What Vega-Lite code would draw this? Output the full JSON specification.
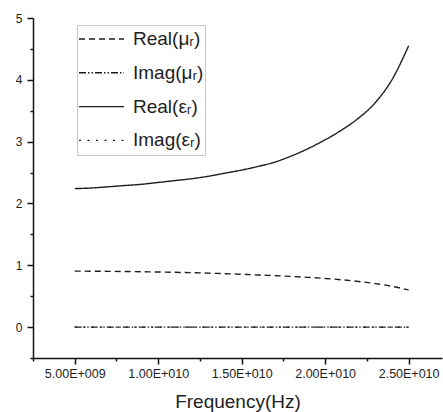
{
  "$schema": "https://vega.github.io/schema/vega-lite/v6.json",
  "width": 409,
  "height": 340,
  "autosize": {"type": "none"},
  "padding": {"left": 33, "top": 18, "right": 1, "bottom": 54},
  "background": "white",
  "config": {"view": {"stroke": null}, "font": "Liberation Sans"},
  "data": {
    "values": [
      {"series": "Real(μᵣ)", "f": 5e9, "v": 0.906},
      {"series": "Real(μᵣ)", "f": 6e9, "v": 0.904},
      {"series": "Real(μᵣ)", "f": 7e9, "v": 0.902},
      {"series": "Real(μᵣ)", "f": 8e9, "v": 0.899},
      {"series": "Real(μᵣ)", "f": 9e9, "v": 0.895},
      {"series": "Real(μᵣ)", "f": 10e9, "v": 0.891},
      {"series": "Real(μᵣ)", "f": 11e9, "v": 0.886},
      {"series": "Real(μᵣ)", "f": 12e9, "v": 0.880},
      {"series": "Real(μᵣ)", "f": 13e9, "v": 0.873},
      {"series": "Real(μᵣ)", "f": 14e9, "v": 0.864},
      {"series": "Real(μᵣ)", "f": 15e9, "v": 0.854},
      {"series": "Real(μᵣ)", "f": 16e9, "v": 0.843},
      {"series": "Real(μᵣ)", "f": 17e9, "v": 0.832},
      {"series": "Real(μᵣ)", "f": 18e9, "v": 0.819},
      {"series": "Real(μᵣ)", "f": 19e9, "v": 0.804},
      {"series": "Real(μᵣ)", "f": 20e9, "v": 0.787},
      {"series": "Real(μᵣ)", "f": 21e9, "v": 0.765},
      {"series": "Real(μᵣ)", "f": 22e9, "v": 0.738},
      {"series": "Real(μᵣ)", "f": 23e9, "v": 0.704},
      {"series": "Real(μᵣ)", "f": 24e9, "v": 0.660},
      {"series": "Real(μᵣ)", "f": 25e9, "v": 0.600},
      {"series": "Imag(μᵣ)", "f": 5e9, "v": 0.0},
      {"series": "Imag(μᵣ)", "f": 6e9, "v": 0.0},
      {"series": "Imag(μᵣ)", "f": 7e9, "v": 0.0},
      {"series": "Imag(μᵣ)", "f": 8e9, "v": 0.0},
      {"series": "Imag(μᵣ)", "f": 9e9, "v": 0.0},
      {"series": "Imag(μᵣ)", "f": 10e9, "v": 0.0},
      {"series": "Imag(μᵣ)", "f": 11e9, "v": 0.0},
      {"series": "Imag(μᵣ)", "f": 12e9, "v": 0.0},
      {"series": "Imag(μᵣ)", "f": 13e9, "v": 0.0},
      {"series": "Imag(μᵣ)", "f": 14e9, "v": 0.0},
      {"series": "Imag(μᵣ)", "f": 15e9, "v": 0.0},
      {"series": "Imag(μᵣ)", "f": 16e9, "v": 0.0},
      {"series": "Imag(μᵣ)", "f": 17e9, "v": 0.0},
      {"series": "Imag(μᵣ)", "f": 18e9, "v": 0.0},
      {"series": "Imag(μᵣ)", "f": 19e9, "v": 0.0},
      {"series": "Imag(μᵣ)", "f": 20e9, "v": 0.0},
      {"series": "Imag(μᵣ)", "f": 21e9, "v": 0.0},
      {"series": "Imag(μᵣ)", "f": 22e9, "v": 0.0},
      {"series": "Imag(μᵣ)", "f": 23e9, "v": 0.0},
      {"series": "Imag(μᵣ)", "f": 24e9, "v": 0.0},
      {"series": "Imag(μᵣ)", "f": 25e9, "v": 0.0},
      {"series": "Real(εᵣ)", "f": 5e9, "v": 2.24},
      {"series": "Real(εᵣ)", "f": 6e9, "v": 2.25},
      {"series": "Real(εᵣ)", "f": 7e9, "v": 2.27},
      {"series": "Real(εᵣ)", "f": 8e9, "v": 2.29},
      {"series": "Real(εᵣ)", "f": 9e9, "v": 2.31},
      {"series": "Real(εᵣ)", "f": 10e9, "v": 2.34},
      {"series": "Real(εᵣ)", "f": 11e9, "v": 2.37},
      {"series": "Real(εᵣ)", "f": 12e9, "v": 2.40},
      {"series": "Real(εᵣ)", "f": 13e9, "v": 2.44},
      {"series": "Real(εᵣ)", "f": 14e9, "v": 2.49},
      {"series": "Real(εᵣ)", "f": 15e9, "v": 2.54},
      {"series": "Real(εᵣ)", "f": 16e9, "v": 2.60},
      {"series": "Real(εᵣ)", "f": 17e9, "v": 2.67},
      {"series": "Real(εᵣ)", "f": 18e9, "v": 2.77},
      {"series": "Real(εᵣ)", "f": 19e9, "v": 2.89},
      {"series": "Real(εᵣ)", "f": 20e9, "v": 3.03},
      {"series": "Real(εᵣ)", "f": 21e9, "v": 3.19},
      {"series": "Real(εᵣ)", "f": 22e9, "v": 3.38},
      {"series": "Real(εᵣ)", "f": 23e9, "v": 3.63},
      {"series": "Real(εᵣ)", "f": 24e9, "v": 4.00},
      {"series": "Real(εᵣ)", "f": 25e9, "v": 4.55},
      {"series": "Imag(εᵣ)", "f": 5e9, "v": 0.0},
      {"series": "Imag(εᵣ)", "f": 6e9, "v": 0.0},
      {"series": "Imag(εᵣ)", "f": 7e9, "v": 0.0},
      {"series": "Imag(εᵣ)", "f": 8e9, "v": 0.0},
      {"series": "Imag(εᵣ)", "f": 9e9, "v": 0.0},
      {"series": "Imag(εᵣ)", "f": 10e9, "v": 0.0},
      {"series": "Imag(εᵣ)", "f": 11e9, "v": 0.0},
      {"series": "Imag(εᵣ)", "f": 12e9, "v": 0.0},
      {"series": "Imag(εᵣ)", "f": 13e9, "v": 0.0},
      {"series": "Imag(εᵣ)", "f": 14e9, "v": 0.0},
      {"series": "Imag(εᵣ)", "f": 15e9, "v": 0.0},
      {"series": "Imag(εᵣ)", "f": 16e9, "v": 0.0},
      {"series": "Imag(εᵣ)", "f": 17e9, "v": 0.0},
      {"series": "Imag(εᵣ)", "f": 18e9, "v": 0.0},
      {"series": "Imag(εᵣ)", "f": 19e9, "v": 0.0},
      {"series": "Imag(εᵣ)", "f": 20e9, "v": 0.0},
      {"series": "Imag(εᵣ)", "f": 21e9, "v": 0.0},
      {"series": "Imag(εᵣ)", "f": 22e9, "v": 0.0},
      {"series": "Imag(εᵣ)", "f": 23e9, "v": 0.0},
      {"series": "Imag(εᵣ)", "f": 24e9, "v": 0.0},
      {"series": "Imag(εᵣ)", "f": 25e9, "v": 0.0}
    ]
  },
  "mark": {"type": "line", "interpolate": "monotone", "strokeWidth": 1.4, "color": "#1e1e1e"},
  "encoding": {
    "x": {
      "field": "f",
      "type": "quantitative",
      "scale": {"domain": [2.5e9, 2.7e10], "nice": false, "zero": false},
      "axis": {
        "title": "Frequency(Hz)",
        "titleFont": "Liberation Sans",
        "titleFontSize": 19,
        "titleFontWeight": "normal",
        "titleColor": "#1e1e1e",
        "titlePadding": 13,
        "values": [2.5e9, 5e9, 7.5e9, 1e10, 1.25e10, 1.5e10, 1.75e10, 2e10, 2.25e10, 2.5e10],
        "labelExpr": "datum.value % 5e9 !== 0 ? '' : (datum.value < 1e10 ? format(datum.value / 1e9, '.2f') + 'E+009' : format(datum.value / 1e10, '.2f') + 'E+010')",
        "labelFont": "Liberation Sans",
        "labelFontSize": 12.5,
        "labelColor": "#1e1e1e",
        "labelPadding": 3,
        "labelFlush": false,
        "labelOverlap": false,
        "labelBound": false,
        "grid": false,
        "domainColor": "#111111",
        "domainWidth": 1.5,
        "tickColor": "#111111",
        "tickWidth": 1.5,
        "tickSize": {"condition": {"test": "datum.value % 5e9 !== 0", "value": 3}, "value": 6}
      }
    },
    "y": {
      "field": "v",
      "type": "quantitative",
      "scale": {"domain": [-0.5, 5], "nice": false, "zero": false},
      "axis": {
        "title": null,
        "values": [-0.5, 0, 0.5, 1, 1.5, 2, 2.5, 3, 3.5, 4, 4.5, 5],
        "labelExpr": "datum.value % 1 === 0 ? format(datum.value, 'd') : ''",
        "labelFont": "Liberation Sans",
        "labelFontSize": 12,
        "labelColor": "#1e1e1e",
        "labelPadding": 5,
        "labelFlush": false,
        "labelOverlap": false,
        "labelBound": false,
        "grid": false,
        "domainColor": "#111111",
        "domainWidth": 1.5,
        "tickColor": "#111111",
        "tickWidth": 1.5,
        "tickSize": {"condition": {"test": "datum.value % 1 !== 0", "value": 3}, "value": 6}
      }
    },
    "strokeDash": {
      "field": "series",
      "type": "nominal",
      "scale": {
        "domain": ["Real(μᵣ)", "Imag(μᵣ)", "Real(εᵣ)", "Imag(εᵣ)"],
        "range": [[6, 4], [7, 2, 1.5, 2, 1.5, 2], [1, 0], [2, 6.5]]
      },
      "legend": {
        "title": null,
        "orient": "none",
        "legendX": 44,
        "legendY": 7,
        "symbolType": "stroke",
        "symbolSize": 2025,
        "symbolStrokeWidth": 1.4,
        "symbolStrokeColor": "#1e1e1e",
        "labelFont": "Liberation Sans",
        "labelFontSize": 19,
        "labelColor": "#1e1e1e",
        "labelOffset": 8,
        "labelLimit": 300,
        "clipHeight": 26,
        "rowPadding": 7.8,
        "strokeColor": "#c8c8c8",
        "fillColor": "white",
        "padding": 1
      }
    }
  }
}
